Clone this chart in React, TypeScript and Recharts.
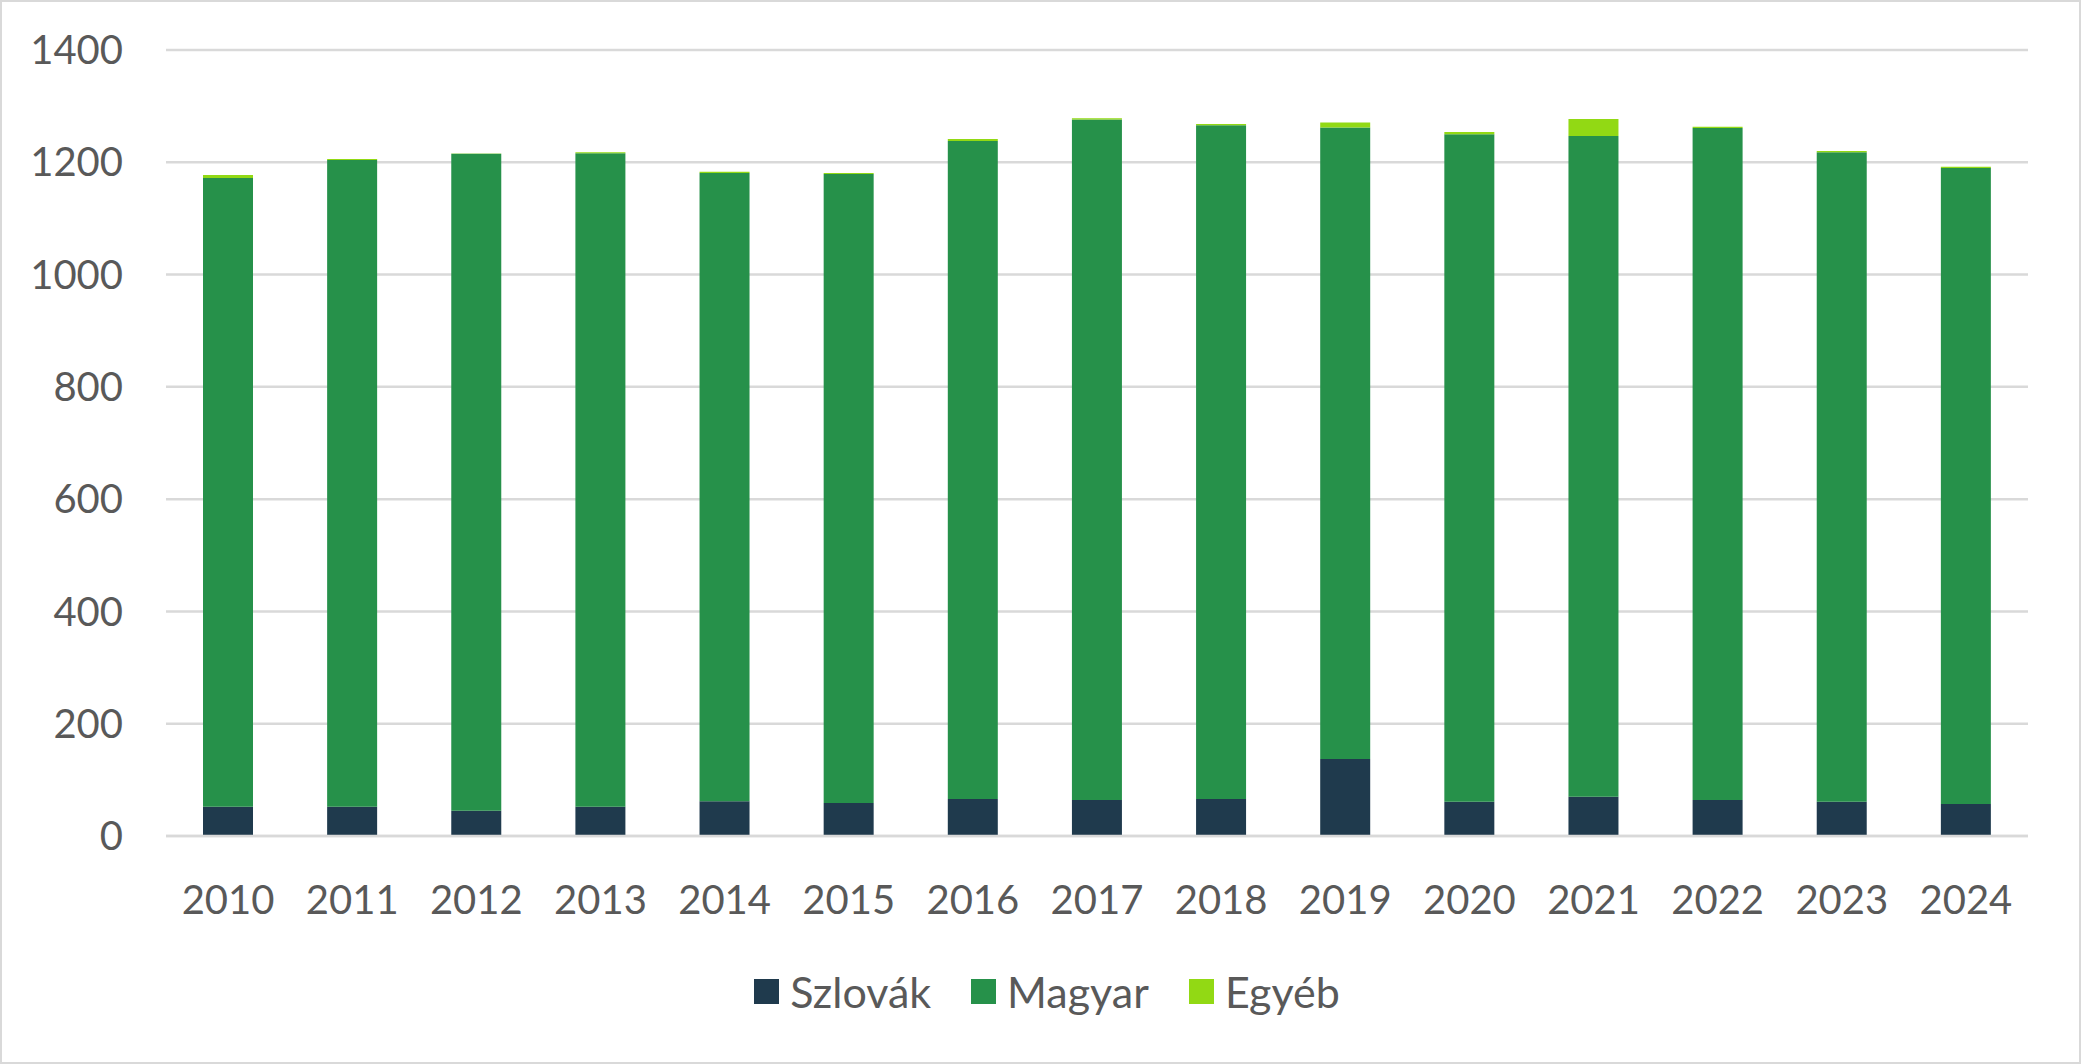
import { Bar, BarChart, CartesianGrid, Legend, XAxis, YAxis } from "recharts";

const years = ["2010", "2011", "2012", "2013", "2014", "2015", "2016", "2017", "2018", "2019", "2020", "2021", "2022", "2023", "2024"];
const szlovak = [52, 52, 45, 52, 62, 59, 66, 64, 66, 137, 61, 70, 64, 61, 57];
const magyar = [1120, 1152, 1170, 1164, 1119, 1120, 1172, 1212, 1200, 1125, 1189, 1177, 1197, 1157, 1133];
const egyeb = [5.5, 2, 0.5, 2, 2, 2, 3.5, 2.5, 2, 9, 4, 30, 2.5, 2, 2];
const yTicks = [0, 200, 400, 600, 800, 1000, 1200, 1400];

const data = years.map((year, i) => ({ year, szlovak: szlovak[i], magyar: magyar[i], egyeb: egyeb[i] }));

const series = [
  { key: "szlovak", name: "Szlovák", color: "#1f3a4d" },
  { key: "magyar", name: "Magyar", color: "#26914a" },
  { key: "egyeb", name: "Egyéb", color: "#92d914" },
];

const font = "Lato, 'Open Sans', sans-serif";
const textColor = "#595959";

function LegendRow() {
  return (
    <div style={{ display: "flex", justifyContent: "center", alignItems: "center", gap: 40, height: 70, paddingLeft: 66, fontFamily: font, fontSize: 43, color: textColor }}>
      {series.map((s) => (
        <div key={s.key} style={{ display: "flex", alignItems: "center" }}>
          <span style={{ display: "inline-block", width: 25, height: 25, background: s.color, marginRight: 11 }} />
          <span>{s.name}</span>
        </div>
      ))}
    </div>
  );
}

export default function App() {
  return (
    <div style={{ position: "absolute", top: 0, left: 0, width: 2081, height: 1064, background: "#fff", boxShadow: "inset 0 0 0 2px #d9d9d9" }}>
      <BarChart width={2081} height={1064} data={data} margin={{ top: 50, right: 53, bottom: 38, left: 0 }}>
        <CartesianGrid vertical={false} stroke="#d9d9d9" strokeWidth={2.5} />
        <XAxis
          dataKey="year"
          axisLine={{ stroke: "#d9d9d9", strokeWidth: 2.5 }}
          tickLine={false}
          tickSize={0}
          tickMargin={50}
          height={120}
          tick={{ fill: textColor, fontSize: 40, fontFamily: font }}
        />
        <YAxis
          width={166}
          domain={[0, 1400]}
          ticks={yTicks}
          axisLine={false}
          tickLine={false}
          tickSize={0}
          tickMargin={43}
          tick={{ fill: textColor, fontSize: 40, fontFamily: font }}
        />
        {series.map((s) => (
          <Bar key={s.key} dataKey={s.key} name={s.name} stackId="a" fill={s.color} barSize={50} isAnimationActive={false} />
        ))}
        <Legend verticalAlign="bottom" content={() => <LegendRow />} />
      </BarChart>
    </div>
  );
}
